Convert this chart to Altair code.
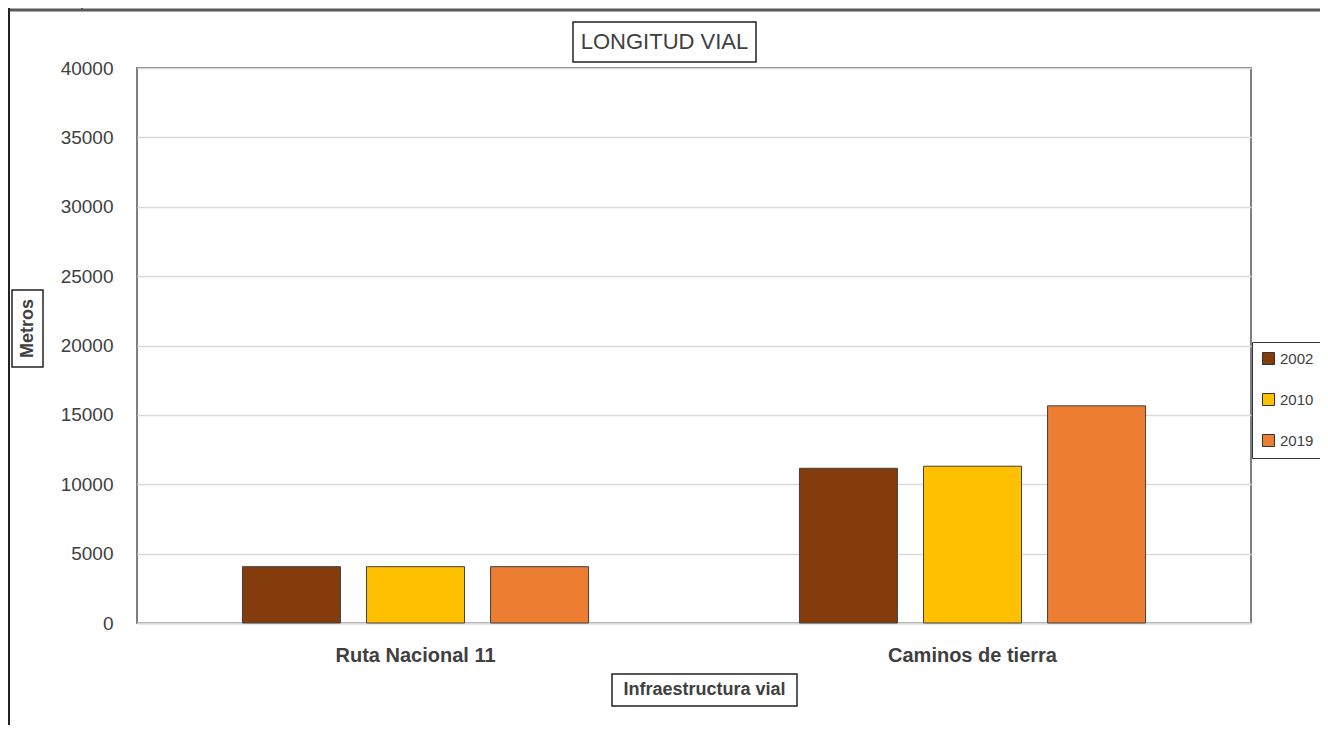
import altair as alt
import pandas as pd

categories = ["Ruta Nacional 11", "Caminos de tierra"]
years = ["2002", "2010", "2019"]
values_2002 = [4060, 11150]
values_2010 = [4060, 11300]
values_2019 = [4060, 15650]
year_colors = ["#843C0C", "#FFC000", "#ED7D31"]
y_ticks = [0, 5000, 10000, 15000, 20000, 25000, 30000, 35000, 40000]

rows = []
for yr, vals in zip(years, [values_2002, values_2010, values_2019]):
    for cat, v in zip(categories, vals):
        rows.append({"categoria": cat, "anio": yr, "metros": v})
df = pd.DataFrame(rows)

W, H = 1114, 555
PL, PT, PR, PB = 129, 60, 69, 102
FONT = "Liberation Sans, Arial, sans-serif"
one = pd.DataFrame({"k": [0]})

bars = alt.Chart(df).mark_bar(stroke="#404040", strokeWidth=1).encode(
    x=alt.X("categoria:N", sort=categories,
            scale=alt.Scale(paddingInner=0, paddingOuter=0),
            axis=alt.Axis(title=None, labelAngle=0, ticks=False, domain=True,
                          domainColor="#d9d9d9", domainWidth=2,
                          labelFontSize=20, labelFontWeight="bold", labelFont=FONT,
                          labelColor="#404040", labelPadding=22)),
    xOffset=alt.XOffset("anio:N", sort=years,
                        scale=alt.Scale(paddingInner=0.21, paddingOuter=0.85)),
    y=alt.Y("metros:Q", scale=alt.Scale(domain=[0, 40000], nice=False),
            axis=alt.Axis(title=None, values=y_ticks, format="d", ticks=False, domain=False,
                          grid=True, gridColor="#d9d9d9", gridWidth=1.5,
                          labelFontSize=19, labelFont=FONT, labelColor="#404040",
                          labelPadding=24)),
    color=alt.Color("anio:N", sort=years,
                    scale=alt.Scale(domain=years, range=year_colors),
                    legend=alt.Legend(title=None, orient="none", legendX=1115, legendY=274,
                                      symbolType="square", symbolSize=144,
                                      symbolStrokeColor="#333333", symbolStrokeWidth=1,
                                      labelFontSize=15, labelFont=FONT, labelColor="#404040",
                                      rowPadding=24, padding=9, symbolOffset=0,
                                      labelOffset=4, strokeColor="#333333",
                                      fillColor="white")),
)

def box(x1, x2, y1, y2):
    return alt.Chart(one).mark_rect(fill="white", stroke="#222222", strokeWidth=1.5).encode(
        x=alt.value(x1), x2=alt.value(x2), y=alt.value(y1), y2=alt.value(y2))

def label(txt, x, y, size, weight="normal", angle=0):
    return alt.Chart(one).mark_text(text=txt, font=FONT, fontSize=size, fontWeight=weight,
                                    color="#404040", align="center", baseline="middle",
                                    angle=angle).encode(x=alt.value(x), y=alt.value(y))

def rule(x1, x2, y1, y2, w, c="#595959"):
    return alt.Chart(one).mark_rule(strokeWidth=w, color=c).encode(
        x=alt.value(x1), x2=alt.value(x2), y=alt.value(y1), y2=alt.value(y2))

deco = [
    rule(-PL, W + PR, -58, -58, 3),
    rule(-128.5, -128.5, -PT, H + PB, 3, "#222222"),
    rule(-55, -55, -PT, -58, 2),
    box(436, 619, -46, -6),
    label("LONGITUD VIAL", 527.5, -26, 22),
    box(-125, -94, 222, 299),
    label("Metros", -109.5, 260.5, 18, "bold", 270),
    box(475, 660, 606, 638),
    label("Infraestructura vial", 567.5, 622, 18, "bold"),
]

chart = alt.layer(bars, *deco).properties(
    width=W, height=H,
    background="white",
    autosize=alt.AutoSizeParams(type="none"),
    padding={"left": PL, "top": PT, "right": PR, "bottom": PB},
).configure_view(stroke="#7f7f7f", strokeWidth=2)

chart.save("out.html", embed_options={"renderer": "svg", "actions": False})
